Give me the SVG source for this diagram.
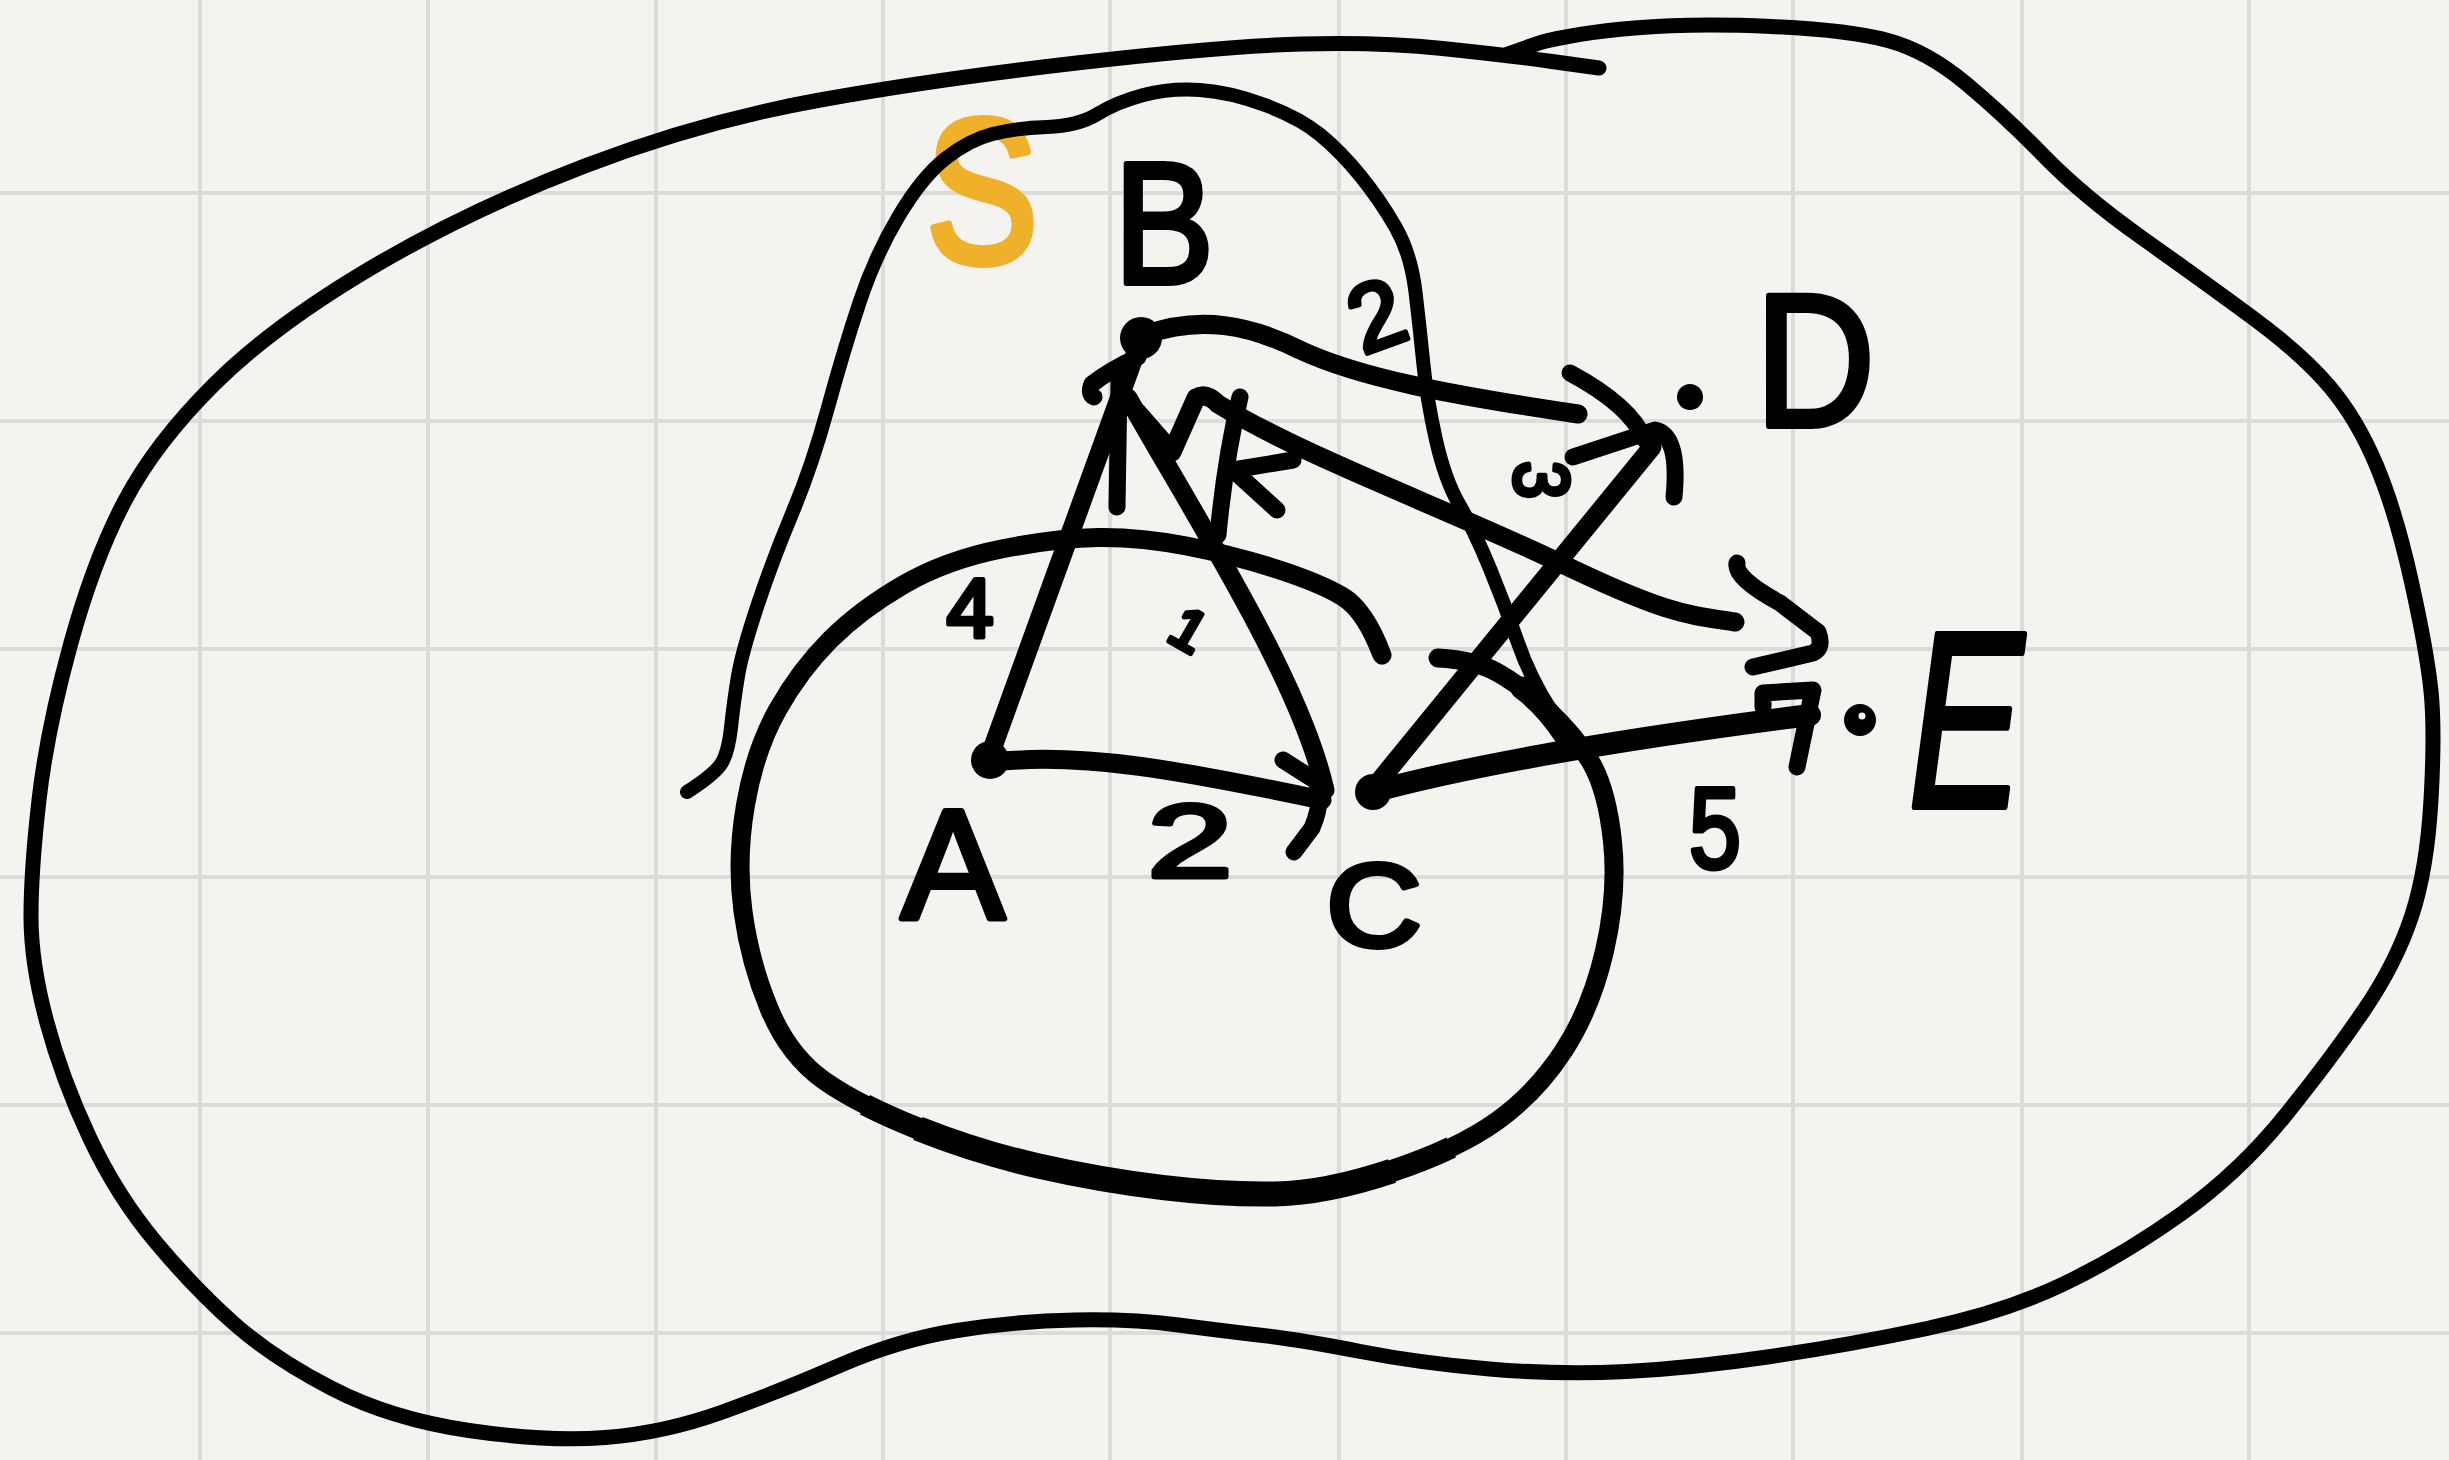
<svg xmlns="http://www.w3.org/2000/svg" width="2449" height="1460" viewBox="0 0 2449 1460">
  <defs>
    <style>
      .grid line { stroke: #dcdbd9; stroke-width: 4; }
      .ink { fill: none; stroke: #000; stroke-linecap: round; stroke-linejoin: round; }
      .outer { stroke-width: 15; }
      .set { stroke-width: 19; }
      .thick { fill: none; stroke: #000; stroke-linecap: butt; stroke-linejoin: round; }
      .blobB { stroke-width: 14; }
      .edge { stroke-width: 19; }
      .head { stroke-width: 17; }
      .dot { fill: #000; }
      .lbl { font-family: "Liberation Sans", Arial, sans-serif; fill: #000; stroke: #000; stroke-width: 6; stroke-linejoin: round; }
      .w { font-family: "Liberation Sans", Arial, sans-serif; fill: #000; stroke: #000; stroke-width: 5; stroke-linejoin: round; }
    </style>
  </defs>
  <rect x="0" y="0" width="2449" height="1460" fill="#f4f3ef"/>
  <g class="grid">
    <line x1="200" y1="0" x2="200" y2="1460"/>
    <line x1="428" y1="0" x2="428" y2="1460"/>
    <line x1="656" y1="0" x2="656" y2="1460"/>
    <line x1="883" y1="0" x2="883" y2="1460"/>
    <line x1="1110" y1="0" x2="1110" y2="1460"/>
    <line x1="1339" y1="0" x2="1339" y2="1460"/>
    <line x1="1566" y1="0" x2="1566" y2="1460"/>
    <line x1="1793" y1="0" x2="1793" y2="1460"/>
    <line x1="2022" y1="0" x2="2022" y2="1460"/>
    <line x1="2249" y1="0" x2="2249" y2="1460"/>
    <line x1="0" y1="193" x2="2449" y2="193"/>
    <line x1="0" y1="421" x2="2449" y2="421"/>
    <line x1="0" y1="649" x2="2449" y2="649"/>
    <line x1="0" y1="877" x2="2449" y2="877"/>
    <line x1="0" y1="1105" x2="2449" y2="1105"/>
    <line x1="0" y1="1333" x2="2449" y2="1333"/>
  </g>

  <g id="set-S-label">
    <text x="982" y="262" text-anchor="middle" font-size="205" textLength="112" lengthAdjust="spacingAndGlyphs" font-family="Liberation Sans, Arial, sans-serif" fill="#efb02a" stroke="#efb02a" stroke-width="8" stroke-linejoin="round">S</text>
  </g>

  <g id="region-outer">
    <path class="ink outer" d="M1599,68 L1552,61.5 Q1505,55 1442.5,48.5 Q1380,42 1302.5,44 Q1225,46 1081,62.5 Q937,79 820,100 Q703,121 586,165.5 Q469,210 371,268 Q273,326 214.5,384 Q156,442 125,500.5 Q94,559 70.5,644.5 Q47,730 39,800 Q31,870 31,916.5 Q31,963 46.5,1021 Q62,1079 89.5,1137.5 Q117,1196 156,1242.5 Q195,1289 234,1323.5 Q273,1358 332,1388.5 Q391,1419 469,1430.5 Q547,1442 605.5,1437.5 Q664,1433 722.5,1412 Q781,1391 839.5,1365.5 Q898,1340 957,1330.5 Q1016,1321 1074.5,1320 Q1133,1319 1178.5,1325 Q1224,1331 1263,1335.5 Q1302,1340 1360.5,1351.5 Q1419,1363 1489.5,1369 Q1560,1375 1626.5,1371.5 Q1693,1368 1771,1356.5 Q1849,1345 1927,1328.5 Q2005,1312 2063.5,1284 Q2122,1256 2181,1214 Q2240,1172 2286.5,1114 Q2333,1056 2364.5,1009.5 Q2396,963 2411.5,916.5 Q2427,870 2431,800 Q2435,730 2431,691 Q2427,652 2411.5,582 Q2396,512 2376.5,465.5 Q2357,419 2329.5,386.5 Q2302,354 2251,316.5 Q2200,279 2141.5,237.5 Q2083,196 2044,156 Q2005,116 1966,83.5 Q1927,51 1888,40.5 Q1849,30 1771,26.5 Q1693,23 1634.5,28 Q1576,33 1540.5,42.5 L1505,55"/>
  </g>

  <g id="region-inner">
    <path class="ink set" d="M1382,655 Q1365,610 1342.5,596.5 Q1320,583 1276.5,569 Q1233,555 1186.5,546 Q1140,537 1098.5,537.5 Q1057,538 1001.5,549 Q946,560 903,585 Q860,610 830,640 Q800,670 777.5,710 Q755,750 745.5,805 Q736,860 743,911.5 Q750,963 769.5,1009.5 Q789,1056 824,1080.5 Q859,1105 918,1128.5 Q977,1152 1038.5,1166 Q1100,1180 1162.5,1187.5 Q1225,1195 1275.5,1194 Q1326,1193 1392,1171 Q1458,1149 1497,1121 Q1536,1093 1563.5,1051 Q1591,1009 1604.5,951 Q1618,893 1612.5,841.5 Q1607,790 1591,762.5 Q1575,735 1547.5,710 Q1520,685 1497.5,672.5 Q1475,660 1438,658"/>
    <path class="thick" stroke-width="22" d="M865,1104.75 Q888.5,1116.75 918,1128.5 Q977,1152 1038.5,1166 Q1100,1180 1162.5,1187.5 Q1225,1195 1275.5,1194 Q1326,1193 1392,1171 Q1425,1160 1451.25,1147.5"/>
    <path class="thick" stroke-width="25" d="M918,1128.5 Q977,1152 1038.5,1166 Q1100,1180 1162.5,1187.5 Q1225,1195 1275.5,1194 Q1326,1193 1392,1171"/>
    <path class="ink" stroke-width="23" d="M1522,688 Q1545,705 1565,735"/>
  </g>

  <g id="region-B">
    <path class="ink blobB" d="M687,792 Q712,776 720,765.5 Q728,755 731,727.5 Q734,700 738,676 Q742,652 757.5,605.5 Q773,559 792.5,512.5 Q812,466 828,407.5 Q844,349 859.5,302.5 Q875,256 898.5,216.5 Q922,177 945.5,158.5 Q969,140 992.5,134 Q1016,128 1047,127 Q1078,126 1097.5,114 Q1117,102 1143.5,95 Q1170,88 1200,90 Q1230,92 1265,105 Q1300,118 1320.5,135 Q1341,152 1360.5,176 Q1380,200 1395.5,227 Q1411,254 1415.5,292 Q1420,330 1423.5,365 Q1427,400 1436,440 Q1445,480 1459.5,505 Q1474,530 1489.5,567.5 Q1505,605 1517.5,641.5 Q1530,678 1552,712"/>
  </g>

  <g id="connectors">
    <!-- A -> B -->
    <path class="ink edge" d="M990,755 L1136,352"/>
    <path class="ink head" d="M1138,357 Q1110,370 1092,384 Q1088,394 1094,397"/>
    <path class="ink head" d="M1119,382 L1117,507"/>
    <!-- B -> C -->
    <path class="ink edge" d="M1128,398 C1200,525 1300,680 1325,790"/>
    <!-- A -> C -->
    <path class="ink edge" d="M995,762 C1080,752 1180,770 1322,800"/>
    <path class="ink head" d="M1283,760 L1316,781 Q1324,800 1312,828 L1294,852"/>
    <!-- B -> D -->
    <path class="ink edge" d="M1145,335 C1200,315 1250,325 1300,350 C1360,378 1450,395 1578,414"/>
    <path class="ink head" d="M1570,373 Q1630,405 1645,440"/>
    <!-- C -> D -->
    <path class="ink edge" d="M1372,790 L1652,447"/>
    <path class="ink head" d="M1573,457 L1655,430 Q1680,435 1674,497"/>
    <!-- E -> B (long edge with hooks) -->
    <path class="ink edge" d="M1137,412 L1172,452 L1196,398 Q1206,392 1218,404 C1300,455 1450,510 1560,563 S1690,615 1735,622"/>
    <path class="ink head" d="M1240,397 Q1225,460 1218,535"/>
    <path class="ink head" d="M1293,460 L1233,470 L1277,510"/>
    <path class="ink head" d="M1737,563 Q1734,578 1780,603 L1818,632 Q1824,648 1813,653 L1753,667"/>
    <!-- C -> E -->
    <path class="ink" stroke-width="22" d="M1372,792 Q1520,752 1810,715"/>
    <path class="ink head" d="M1763,707 L1763,693 L1813,690 L1797,767"/>
  </g>

  <g id="edge-labels">
    <text class="w" x="970" y="637" text-anchor="middle" font-size="84">4</text>
    <text class="w" x="1190" y="650" text-anchor="middle" font-size="58" transform="rotate(30 1190 628)">1</text>
    <text class="w" x="1190" y="877" text-anchor="middle" font-size="103" textLength="85" lengthAdjust="spacingAndGlyphs">2</text>
    <text class="w" x="1376" y="348" text-anchor="middle" font-size="95" transform="rotate(-20 1376 314)">2</text>
    <text class="w" x="1535" y="500" text-anchor="middle" font-size="78" textLength="38" lengthAdjust="spacingAndGlyphs" transform="rotate(90 1535 480)">3</text>
    <text class="w" x="1715" y="868" text-anchor="middle" font-size="115" textLength="52" lengthAdjust="spacingAndGlyphs">5</text>
  </g>

  <g id="node-A">
    <circle class="dot" cx="990" cy="760" r="19"/>
    <text class="lbl" x="953" y="918" text-anchor="middle" font-size="155">A</text>
  </g>
  <g id="node-B">
    <circle class="dot" cx="1141" cy="338" r="21"/>
    <text class="lbl" x="1164" y="283" text-anchor="middle" font-size="172" textLength="100" lengthAdjust="spacingAndGlyphs">B</text>
  </g>
  <g id="node-C">
    <circle class="dot" cx="1373" cy="792" r="18"/>
    <text class="lbl" x="1374" y="946" text-anchor="middle" font-size="117" textLength="95" lengthAdjust="spacingAndGlyphs">C</text>
  </g>
  <g id="node-D">
    <circle class="dot" cx="1690" cy="397" r="13"/>
    <text class="lbl" x="1815" y="426" text-anchor="middle" font-size="190" textLength="120" lengthAdjust="spacingAndGlyphs">D</text>
  </g>
  <g id="node-E">
    <circle class="dot" cx="1860" cy="720" r="16"/>
    <circle cx="1862" cy="716" r="3.5" fill="#f4f3ef"/>
    <text class="lbl" x="1966" y="807" text-anchor="middle" font-size="250" font-style="italic" textLength="115" lengthAdjust="spacingAndGlyphs">E</text>
  </g>
</svg>
